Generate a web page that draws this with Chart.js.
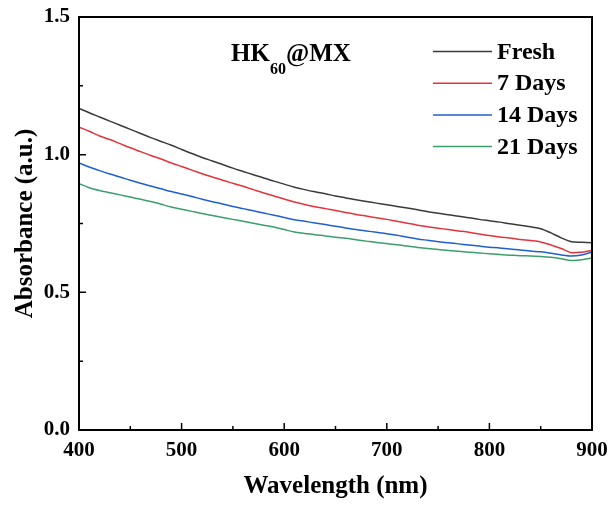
<!DOCTYPE html>
<html>
<head>
<meta charset="utf-8">
<script src="https://cdn.jsdelivr.net/npm/chart.js@4.4.1/dist/chart.umd.min.js"></script>
<style>
  body { margin: 0; background: #fff; }
  #wrap { width: 610px; height: 506px; }
</style>
</head>
<body>
<div id="wrap"><canvas id="myChart" width="610" height="506"></canvas></div>
<script>
'use strict';

// data (absorbance, a.u.)
let wavelengths = [400, 410, 420, 430, 440, 450, 460, 470, 480, 490,
  500, 510, 520, 530, 540, 550, 560, 570, 580, 590,
  600, 610, 620, 630, 640, 650, 660, 670, 680, 690,
  700, 710, 720, 730, 740, 750, 760, 770, 780, 790,
  800, 810, 820, 830, 840, 850, 860, 870, 880, 890, 900];

let fresh = [1.168, 1.152, 1.137, 1.122, 1.107, 1.092, 1.077, 1.062, 1.048, 1.034,
  1.019, 1.004, 0.990, 0.977, 0.964, 0.951, 0.939, 0.927, 0.915, 0.904,
  0.893, 0.882, 0.873, 0.865, 0.858, 0.850, 0.843, 0.836, 0.830, 0.824,
  0.818, 0.812, 0.806, 0.800, 0.793, 0.787, 0.782, 0.776, 0.771, 0.765,
  0.760, 0.755, 0.749, 0.744, 0.738, 0.731, 0.716, 0.698, 0.684, 0.682, 0.680];

let days7 = [1.100, 1.085, 1.068, 1.055, 1.040, 1.025, 1.011, 0.997, 0.984, 0.970,
  0.957, 0.944, 0.931, 0.919, 0.907, 0.896, 0.885, 0.873, 0.861, 0.850,
  0.839, 0.828, 0.819, 0.811, 0.804, 0.797, 0.790, 0.783, 0.777, 0.771,
  0.765, 0.758, 0.751, 0.744, 0.738, 0.733, 0.728, 0.723, 0.718, 0.712,
  0.706, 0.701, 0.697, 0.692, 0.688, 0.683, 0.672, 0.659, 0.644, 0.646, 0.652];

let days14 = [0.970, 0.955, 0.942, 0.930, 0.919, 0.907, 0.896, 0.886, 0.876, 0.866,
  0.857, 0.848, 0.838, 0.829, 0.821, 0.812, 0.804, 0.796, 0.788, 0.780,
  0.772, 0.764, 0.758, 0.752, 0.746, 0.740, 0.734, 0.728, 0.723, 0.718,
  0.713, 0.707, 0.700, 0.694, 0.689, 0.684, 0.680, 0.676, 0.672, 0.668,
  0.664, 0.661, 0.657, 0.654, 0.650, 0.647, 0.642, 0.636, 0.632, 0.636, 0.646];

let days21 = [0.895, 0.880, 0.870, 0.862, 0.854, 0.846, 0.838, 0.830, 0.820, 0.810,
  0.802, 0.794, 0.786, 0.779, 0.772, 0.765, 0.758, 0.751, 0.744, 0.737,
  0.728, 0.719, 0.714, 0.709, 0.705, 0.700, 0.696, 0.691, 0.686, 0.681,
  0.677, 0.673, 0.668, 0.663, 0.659, 0.656, 0.652, 0.649, 0.646, 0.643,
  0.640, 0.637, 0.635, 0.633, 0.632, 0.630, 0.627, 0.622, 0.616, 0.618, 0.625];

let seriesNames = ['Fresh', '7 Days', '14 Days', '21 Days'];
let seriesColors = ['#3a3a3a', '#e3343b', '#1f5fcf', '#3c9e6b'];

let xTicks = [400, 500, 600, 700, 800, 900];
let xMinorTicks = [450, 550, 650, 750, 850];
let yTicks = [0, 0.5, 1.0, 1.5];
let yMinorTicks = [0.25, 0.75, 1.25];

const serif = "'Liberation Serif', 'Times New Roman', serif";

function toPoints(values) {
  let pts = [];
  for (let i = 0; i < wavelengths.length; i++) {
    pts.push({ x: wavelengths[i], y: values[i] });
  }
  return pts;
}

let allSeries = [fresh, days7, days14, days21];
let datasets = [];
for (let i = 0; i < allSeries.length; i++) {
  datasets.push({
    label: seriesNames[i],
    data: toPoints(allSeries[i]),
    borderColor: seriesColors[i],
    borderWidth: 1.5,
    pointRadius: 0,
    tension: 0.3,
    fill: false
  });
}

// frame, inward ticks, legend and panel title
const extras = {
  id: 'extras',
  afterDraw(chart) {
    const ctx = chart.ctx;
    const a = chart.chartArea;
    const xs = chart.scales.x;
    const ys = chart.scales.y;
    ctx.save();
    ctx.strokeStyle = '#000';
    ctx.lineWidth = 1.5;
    ctx.beginPath();
    xTicks.forEach(v => { let p = xs.getPixelForValue(v); ctx.moveTo(p, a.bottom); ctx.lineTo(p, a.bottom - 7); });
    xMinorTicks.forEach(v => { let p = xs.getPixelForValue(v); ctx.moveTo(p, a.bottom); ctx.lineTo(p, a.bottom - 4); });
    yTicks.forEach(v => { let p = ys.getPixelForValue(v); ctx.moveTo(a.left, p); ctx.lineTo(a.left + 7, p); });
    yMinorTicks.forEach(v => { let p = ys.getPixelForValue(v); ctx.moveTo(a.left, p); ctx.lineTo(a.left + 4, p); });
    ctx.stroke();
    ctx.lineWidth = 2;
    ctx.strokeRect(a.left, a.top, a.right - a.left, a.bottom - a.top);

    // legend
    ctx.font = 'bold 24px ' + serif;
    ctx.textBaseline = 'middle';
    ctx.textAlign = 'left';
    for (let i = 0; i < seriesNames.length; i++) {
      let y = 51.5 + i * 31.7;
      ctx.strokeStyle = seriesColors[i];
      ctx.lineWidth = 1.5;
      ctx.beginPath();
      ctx.moveTo(433, y);
      ctx.lineTo(492, y);
      ctx.stroke();
      ctx.fillStyle = '#000';
      ctx.fillText(seriesNames[i], 497, y + 1);
    }

    // panel title HK60@MX
    ctx.textBaseline = 'alphabetic';
    ctx.font = 'bold 25px ' + serif;
    let x = 231;
    ctx.fillText('HK', x, 61);
    x += ctx.measureText('HK').width;
    ctx.font = 'bold 16px ' + serif;
    ctx.fillText('60', x, 74);
    x += ctx.measureText('60').width;
    ctx.font = 'bold 25px ' + serif;
    ctx.fillText('@MX', x, 61);
    ctx.restore();
  }
};

let chartObject = {
  type: 'line',
  data: { datasets: datasets },
  options: {
    responsive: false,
    animation: false,
    layout: { padding: { top: 17, right: 18, bottom: 0, left: 0 } },
    plugins: { legend: { display: false }, tooltip: { enabled: false } },
    scales: {
      x: {
        type: 'linear',
        min: 400,
        max: 900,
        grid: { display: false, drawTicks: false },
        border: { display: false },
        afterBuildTicks: scale => { scale.ticks = xTicks.map(v => ({ value: v })); },
        afterFit: scale => {
          scale.height = 76;
          scale.paddingLeft = 0;
          scale.paddingRight = 0;
        },
        ticks: {
          color: '#000',
          padding: 8,
          font: { family: serif, size: 21, weight: 'bold' }
        },
        title: {
          display: true,
          text: 'Wavelength (nm)',
          color: '#000',
          padding: { top: 0, bottom: 4 },
          font: { family: serif, size: 25, weight: 'bold' }
        }
      },
      y: {
        min: 0,
        max: 1.5,
        grid: { display: false, drawTicks: false },
        border: { display: false },
        afterBuildTicks: scale => { scale.ticks = yTicks.map(v => ({ value: v })); },
        afterFit: scale => {
          scale.width = 79;
          scale.paddingTop = 0;
          scale.paddingBottom = 0;
        },
        ticks: {
          color: '#000',
          padding: 9,
          font: { family: serif, size: 21, weight: 'bold' },
          callback: v => v.toFixed(1)
        },
        title: {
          display: true,
          text: 'Absorbance (a.u.)',
          color: '#000',
          padding: { top: 11, bottom: 0 },
          font: { family: serif, size: 25, weight: 'bold' }
        }
      }
    }
  },
  plugins: [extras]
};

let ctx = document.getElementById('myChart').getContext('2d');
let myChart = new Chart(ctx, chartObject);
</script>
</body>
</html>
